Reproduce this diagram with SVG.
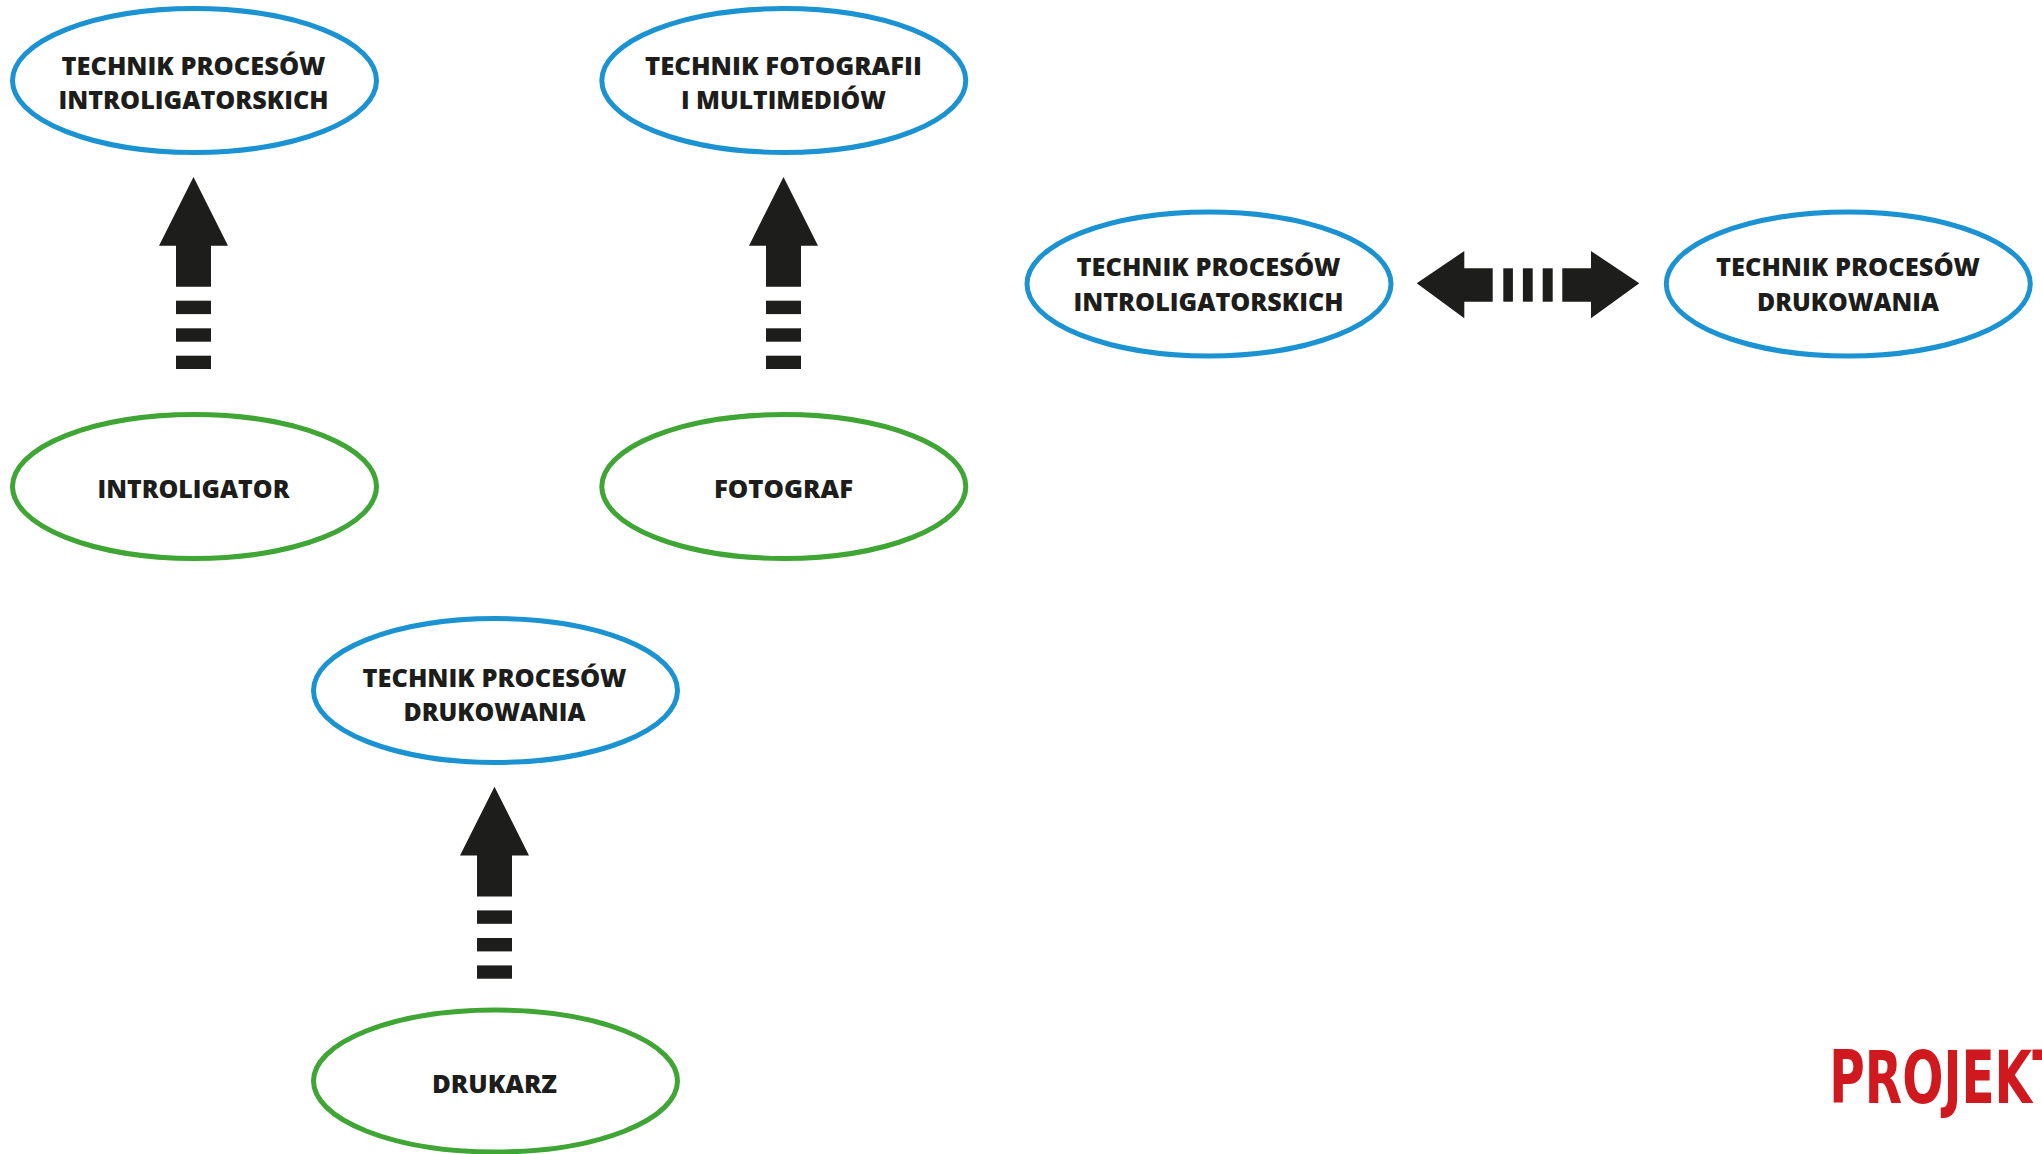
<svg xmlns="http://www.w3.org/2000/svg" width="2042" height="1154" viewBox="0 0 2042 1154">
<style>
.blue{fill:#fff;stroke:#1b92d1;stroke-width:5}
.green{fill:#fff;stroke:#3fa535;stroke-width:5}
.lbl{font-family:"Open Sans","Liberation Sans",sans-serif;font-weight:800;font-size:24.5px;fill:#1d1d1b;text-anchor:middle}
.arr{fill:#1d1d1b}
.logo{font-family:"Liberation Sans Narrow","DejaVu Sans","Liberation Sans",sans-serif;font-stretch:condensed;font-weight:700;font-size:73px;fill:#d0181f}
</style>
<defs>
<g id="uparrow">
<polygon points="0,0 34.5,68.7 17.5,68.7 17.5,109.7 -17.5,109.7 -17.5,68.7 -34.5,68.7"/>
<rect x="-17.5" y="123.7" width="35" height="13.4"/>
<rect x="-17.5" y="151.3" width="35" height="13.4"/>
<rect x="-17.5" y="178.7" width="35" height="13.3"/>
</g>
</defs>
<rect width="2042" height="1154" fill="#fff"/>
<g id="connectors" class="arr">
<use href="#uparrow" x="193.5" y="177"/>
<use href="#uparrow" x="783.5" y="177"/>
<use href="#uparrow" x="494.5" y="786.7"/>
<g id="double-arrow">
<polygon points="1416.7,283.3 1464.3,251 1464.3,268.3 1492.7,268.3 1492.7,301.7 1464.3,301.7 1464.3,318.3"/>
<rect x="1503.3" y="268.3" width="9.6" height="33.4"/>
<rect x="1522.9" y="268.3" width="9.8" height="33.4"/>
<rect x="1542.7" y="268.3" width="10" height="33.4"/>
<polygon points="1639.3,283.3 1591,251 1591,268.3 1562.3,268.3 1562.3,301.7 1591,301.7 1591,318.3"/>
</g>
</g>
<g id="n-tpi-top">
<ellipse class="blue" cx="194.5" cy="80.5" rx="182" ry="72"/>
<text class="lbl" x="193.5" y="75" textLength="264" lengthAdjust="spacingAndGlyphs">TECHNIK PROCESÓW</text>
<text class="lbl" x="193.5" y="109" textLength="270" lengthAdjust="spacingAndGlyphs">INTROLIGATORSKICH</text>
</g>
<g id="n-tfm">
<ellipse class="blue" cx="783.8" cy="80.5" rx="182" ry="72"/>
<text class="lbl" x="783.5" y="75" textLength="277" lengthAdjust="spacingAndGlyphs">TECHNIK FOTOGRAFII</text>
<text class="lbl" x="783.5" y="109" textLength="205" lengthAdjust="spacingAndGlyphs">I MULTIMEDIÓW</text>
</g>
<g id="n-introligator">
<ellipse class="green" cx="194.5" cy="486.5" rx="182" ry="72"/>
<text class="lbl" x="193.5" y="498" textLength="192" lengthAdjust="spacingAndGlyphs">INTROLIGATOR</text>
</g>
<g id="n-fotograf">
<ellipse class="green" cx="783.8" cy="486.5" rx="182" ry="72"/>
<text class="lbl" x="783.5" y="498" textLength="139" lengthAdjust="spacingAndGlyphs">FOTOGRAF</text>
</g>
<g id="n-tpi-right">
<ellipse class="blue" cx="1209" cy="284" rx="182" ry="72"/>
<text class="lbl" x="1208.5" y="276" textLength="264" lengthAdjust="spacingAndGlyphs">TECHNIK PROCESÓW</text>
<text class="lbl" x="1208.5" y="310.5" textLength="270" lengthAdjust="spacingAndGlyphs">INTROLIGATORSKICH</text>
</g>
<g id="n-tpd-right">
<ellipse class="blue" cx="1848.3" cy="284" rx="182" ry="72"/>
<text class="lbl" x="1848" y="276" textLength="264" lengthAdjust="spacingAndGlyphs">TECHNIK PROCESÓW</text>
<text class="lbl" x="1848" y="310.5" textLength="182" lengthAdjust="spacingAndGlyphs">DRUKOWANIA</text>
</g>
<g id="n-tpd-bottom">
<ellipse class="blue" cx="495.5" cy="690.5" rx="182" ry="72"/>
<text class="lbl" x="494.5" y="687" textLength="264" lengthAdjust="spacingAndGlyphs">TECHNIK PROCESÓW</text>
<text class="lbl" x="494.5" y="721" textLength="182" lengthAdjust="spacingAndGlyphs">DRUKOWANIA</text>
</g>
<g id="n-drukarz">
<ellipse class="green" cx="495.5" cy="1081" rx="182" ry="71"/>
<text class="lbl" x="494.5" y="1093" textLength="125" lengthAdjust="spacingAndGlyphs">DRUKARZ</text>
</g>
<text class="logo" x="1829.3" y="1103.3" textLength="236" lengthAdjust="spacingAndGlyphs">PROJEKT</text>
</svg>
